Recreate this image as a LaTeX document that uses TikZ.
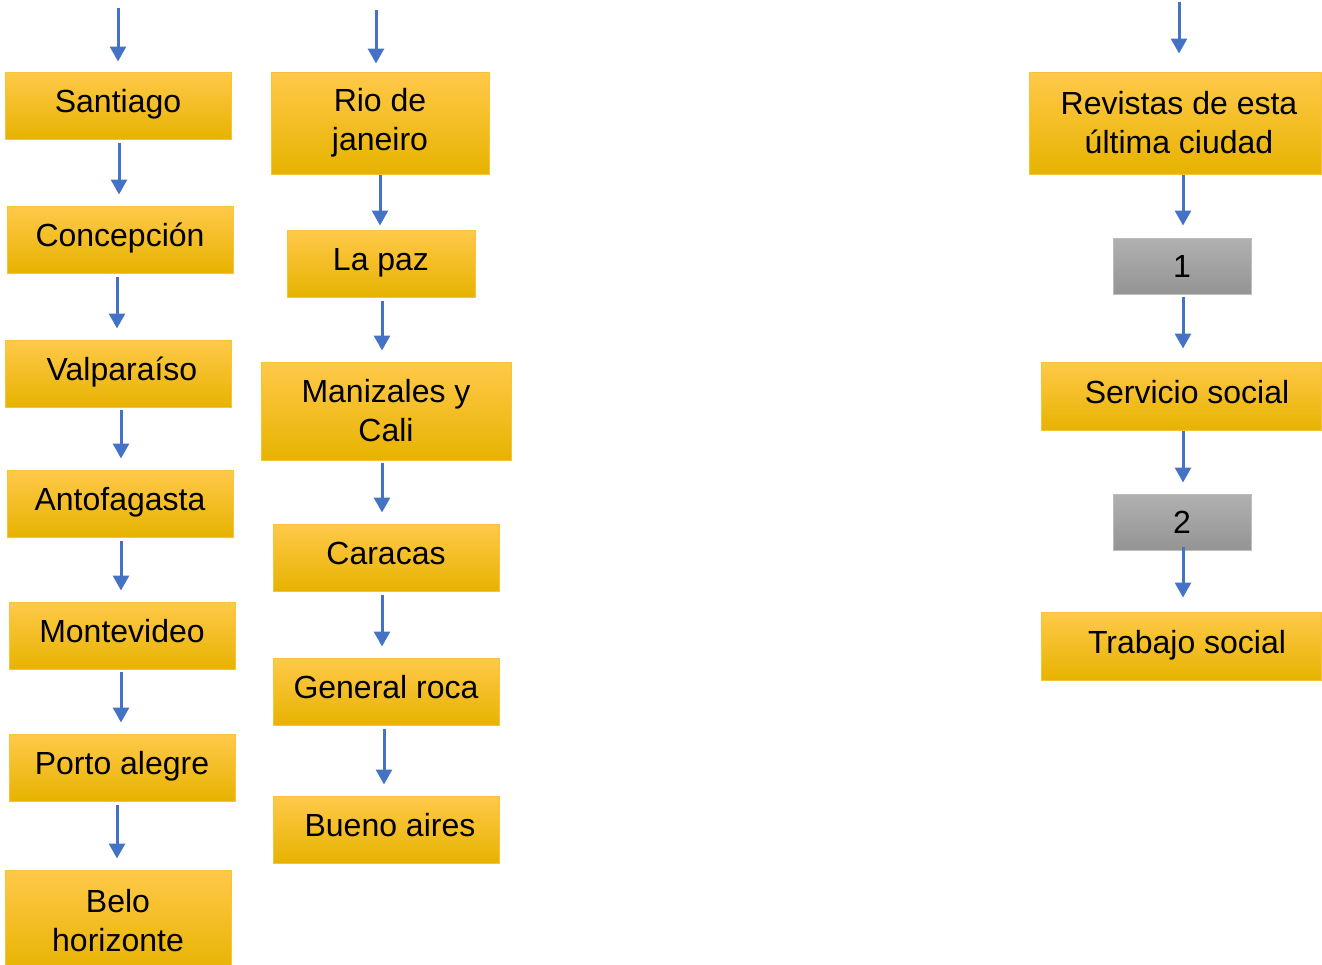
\documentclass[tikz,border=0pt]{standalone}
\usepackage{fontspec}
\setmainfont{Liberation Sans}
\usetikzlibrary{arrows.meta}
\definecolor{ytop}{HTML}{FFC94A}
\definecolor{ymid}{HTML}{FFC000}
\definecolor{ybot}{HTML}{E7B300}
\definecolor{yedge}{HTML}{F9C23C}
\definecolor{gtop}{HTML}{B1B1B1}
\definecolor{gmid}{HTML}{A5A5A5}
\definecolor{gbot}{HTML}{949494}
\definecolor{gedge}{HTML}{BDBDBD}
\definecolor{arrblue}{HTML}{4472C4}
\tikzset{
  ybox/.style={rectangle, inner sep=0pt, top color=ytop, middle color=ymid, bottom color=ybot, draw=yedge, line width=1pt, align=center, font=\fontsize{32}{39}\selectfont},
  gbox/.style={rectangle, inner sep=0pt, top color=gtop, middle color=gmid, bottom color=gbot, draw=gedge, line width=1pt, align=center, font=\fontsize{32}{39}\selectfont},
  oneline/.style={text height=22pt, text depth=8pt},
  arr/.style={draw=arrblue, line width=3pt, -{Triangle[width=16pt,length=15pt]}, shorten <=2pt, shorten >=11pt}
}
\begin{document}
\begin{tikzpicture}[x=1pt,y=-1pt]
\clip (0,0) rectangle (1322,964);
% column 1
\node[ybox, oneline, minimum width=226, minimum height=67] (san) at (118,105.5) {Santiago};
\node[ybox, oneline, minimum width=226, minimum height=67] (con) at (120,239.5) {Concepción};
\node[ybox, oneline, minimum width=226, minimum height=67] (val) at (118,373.5) {\hspace*{8pt}Valparaíso};
\node[ybox, oneline, minimum width=226, minimum height=67] (ant) at (120,503.5) {Antofagasta};
\node[ybox, oneline, minimum width=226, minimum height=67] (mon) at (122,635.5) {Montevideo};
\node[ybox, oneline, minimum width=226, minimum height=67] (por) at (122,767.5) {Porto alegre};
\node[ybox, minimum width=226, minimum height=102] (bel) at (118,921) {Belo\\horizonte};
\coordinate (t1) at (118,8);
\draw[arr, shorten <=0pt, shorten >=10pt] (t1) -- (san.north);
\draw[arr, shorten <=3pt] ([xshift=1pt]san.south) -- ([xshift=-1pt]con.north);
\draw[arr, shorten <=3pt] ([xshift=-3pt]con.south) -- ([xshift=-1pt]val.north);
\draw[arr] ([xshift=3pt]val.south) -- ([xshift=1pt]ant.north);
\draw[arr, shorten <=3pt] ([xshift=1pt]ant.south) -- ([xshift=-1pt]mon.north);
\draw[arr] ([xshift=-1pt]mon.south) -- ([xshift=-1pt]por.north);
\draw[arr, shorten <=3pt] ([xshift=-5pt]por.south) -- ([xshift=-1pt]bel.north);
% column 2
\node[ybox, minimum width=218, minimum height=102] (rio) at (380,123) {Rio de\\janeiro};
\node[ybox, oneline, minimum width=188, minimum height=67] (paz) at (381,263.5) {La paz};
\node[ybox, minimum width=250, minimum height=98] (man) at (386,411) {Manizales y\\Cali};
\node[ybox, oneline, minimum width=226, minimum height=67] (car) at (386,557.5) {Caracas};
\node[ybox, oneline, minimum width=226, minimum height=67] (gen) at (386,691.5) {General roca};
\node[ybox, oneline, minimum width=226, minimum height=67] (bue) at (386,829.5) {\hspace*{8pt}Bueno aires};
\coordinate (t2) at (376,10);
\draw[arr, shorten <=0pt, shorten >=8pt] (t2) -- ([xshift=-4pt]rio.north);
\draw[arr, shorten <=0pt, shorten >=4pt] (rio.south) -- ([xshift=-1pt]paz.north);
\draw[arr, shorten <=3pt] ([xshift=1pt]paz.south) -- ([xshift=-4pt]man.north);
\draw[arr] ([xshift=-4pt]man.south) -- ([xshift=-4pt]car.north);
\draw[arr, shorten <=3pt] ([xshift=-4pt]car.south) -- ([xshift=-4pt]gen.north);
\draw[arr, shorten <=3pt] ([xshift=-2pt]gen.south) -- ([xshift=-2pt]bue.north);
% column 3
\node[ybox, minimum width=292, minimum height=102] (rev) at (1175,123) {\hspace*{8pt}Revistas de esta\\\hspace*{8pt}última ciudad};
\node[gbox, minimum width=138, minimum height=56] (one) at (1182,266) {1};
\node[ybox, oneline, minimum width=280, minimum height=68] (ser) at (1181,396) {\hspace*{12pt}Servicio social};
\node[gbox, minimum width=138, minimum height=56] (two) at (1182,522) {2};
\node[ybox, oneline, minimum width=280, minimum height=68] (tra) at (1181,646) {\hspace*{12pt}Trabajo social};
\coordinate (t3) at (1179,2);
\draw[arr, shorten <=0pt, shorten >=18pt] (t3) -- ([xshift=4pt]rev.north);
\draw[arr, shorten <=0pt, shorten >=12pt] ([xshift=8pt]rev.south) -- ([xshift=1pt]one.north);
\draw[arr, shorten >=13pt] ([xshift=1pt]one.south) -- ([xshift=2pt]ser.north);
\draw[arr, shorten <=0pt] ([xshift=2pt]ser.south) -- ([xshift=1pt]two.north);
\draw[arr, shorten <=-4pt, shorten >=14pt] ([xshift=1pt]two.south) -- ([xshift=2pt]tra.north);
\end{tikzpicture}
\end{document}
